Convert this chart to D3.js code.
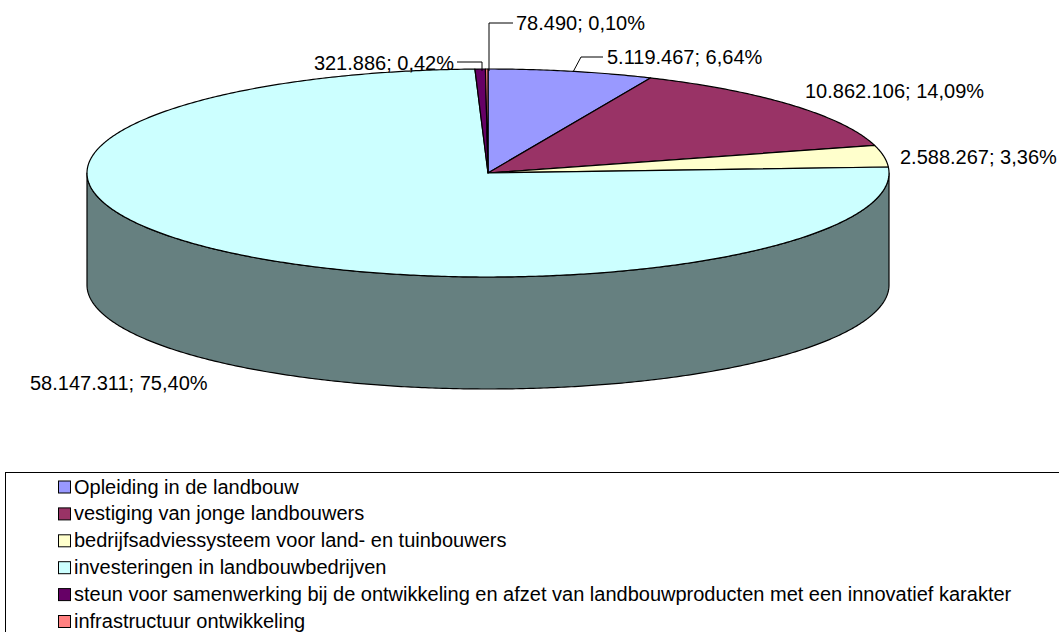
<!DOCTYPE html>
<html>
<head>
<meta charset="utf-8">
<script src="https://cdn.jsdelivr.net/npm/d3@7"></script>
<style>
  html, body { margin: 0; padding: 0; background: #fff; overflow: hidden; }
  svg { display: block; font-family: "Liberation Sans", Arial, sans-serif; }
</style>
</head>
<body>
<svg id="chart" width="1059" height="632"></svg>
<script>
// ---- data ----
const categories = [
  "Opleiding in de landbouw",
  "vestiging van jonge landbouwers",
  "bedrijfsadviessysteem voor land- en tuinbouwers",
  "investeringen in landbouwbedrijven",
  "steun voor samenwerking bij de ontwikkeling en afzet van landbouwproducten met een innovatief karakter",
  "infrastructuur ontwikkeling"
];
const values = [5119467, 10862106, 2588267, 58147311, 321886, 78490];
const colors = ["#9999FF", "#993366", "#FFFFCC", "#CCFFFF", "#660066", "#FF8080"];

// ---- layout ----
const W = 1059, H = 632;
const cx = 488, cy = 173, rx = 401, ry = 104, depth = 112;
// label anchor positions (text start x / end x, vertical middle y) and leader lines
const labelLayout = [
  { x: 607, y: 57, anchor: "start", leader: [[573, 72], [581, 57], [603, 57]] },
  { x: 805, y: 91, anchor: "start", leader: null },
  { x: 900, y: 157, anchor: "start", leader: null },
  { x: 30, y: 383, anchor: "start", leader: null },
  { x: 454, y: 63, anchor: "end", leader: [[457, 62], [482, 62], [482, 71]] },
  { x: 516, y: 23, anchor: "start", leader: [[489, 71], [489, 23], [513, 23]] }
];

const svg = d3.select("#chart");
const total = d3.sum(values);
const nl = d3.formatLocale({ decimal: ",", thousands: ".", grouping: [3], currency: ["€", ""] });
const fmtVal = nl.format(",d");
const fmtPct = nl.format(".2f");

const pie = d3.pie().sort(null).startAngle(0).endAngle(2 * Math.PI);
const arcs = pie(values);

const px = a => cx + rx * Math.sin(a);
const py = a => cy - ry * Math.cos(a);
const line = d3.line();

function arcPoints(a0, a1, dy) {
  const n = Math.max(2, Math.ceil((a1 - a0) / (Math.PI / 360)));
  const pts = [];
  for (let i = 0; i <= n; i++) {
    const a = a0 + (a1 - a0) * i / n;
    pts.push([px(a), py(a) + dy]);
  }
  return pts;
}

function darken(c) {
  const r = d3.rgb(c);
  return d3.rgb(r.r * 0.5, r.g * 0.5, r.b * 0.5).formatHex();
}

// ---- sides (front half only) ----
const gSide = svg.append("g");
arcs.forEach((d, i) => {
  const s = Math.max(d.startAngle, Math.PI / 2);
  const e = Math.min(d.endAngle, 3 * Math.PI / 2);
  if (e <= s) return;
  const top = arcPoints(s, e, 0);
  const bot = arcPoints(s, e, depth).reverse();
  gSide.append("path")
    .attr("d", line(top.concat(bot)) + "Z")
    .attr("fill", darken(colors[i]))
    .attr("stroke", "#000")
    .attr("stroke-width", 1.2)
    .attr("stroke-linejoin", "round");
});

// ---- tops ----
const gTop = svg.append("g");
arcs.forEach((d, i) => {
  const pts = [[cx, cy]].concat(arcPoints(d.startAngle, d.endAngle, 0));
  gTop.append("path")
    .attr("d", line(pts) + "Z")
    .attr("fill", colors[i])
    .attr("stroke", "#000")
    .attr("stroke-width", 1.2)
    .attr("stroke-linejoin", "round");
});

// ---- data labels ----
const gLab = svg.append("g");
arcs.forEach((d, i) => {
  const L = labelLayout[i];
  if (L.leader) {
    gLab.append("path")
      .attr("d", line(L.leader))
      .attr("fill", "none")
      .attr("stroke", "#000")
      .attr("stroke-width", 1);
  }
  gLab.append("text")
    .attr("x", L.x)
    .attr("y", L.y)
    .attr("dy", "0.35em")
    .attr("text-anchor", L.anchor)
    .attr("font-size", 20)
    .attr("fill", "#000")
    .text(fmtVal(values[i]) + "; " + fmtPct(values[i] / total * 100) + "%");
});

// ---- legend ----
const legX = 5, legY = 472, rowH = 26.9, row0 = 486.5;
const gLeg = svg.append("g");
gLeg.append("rect")
  .attr("x", legX + 0.5).attr("y", legY + 0.5)
  .attr("width", W + 10).attr("height", 300)
  .attr("fill", "#fff").attr("stroke", "#000").attr("stroke-width", 1);
categories.forEach((c, i) => {
  const yc = row0 + i * rowH;
  gLeg.append("rect")
    .attr("x", 58.5).attr("y", yc - 5.5)
    .attr("width", 12).attr("height", 12)
    .attr("fill", colors[i]).attr("stroke", "#000").attr("stroke-width", 1);
  gLeg.append("text")
    .attr("x", 74).attr("y", yc)
    .attr("dy", "0.35em")
    .attr("font-size", 20)
    .attr("fill", "#000")
    .text(c);
});
</script>
</body>
</html>
